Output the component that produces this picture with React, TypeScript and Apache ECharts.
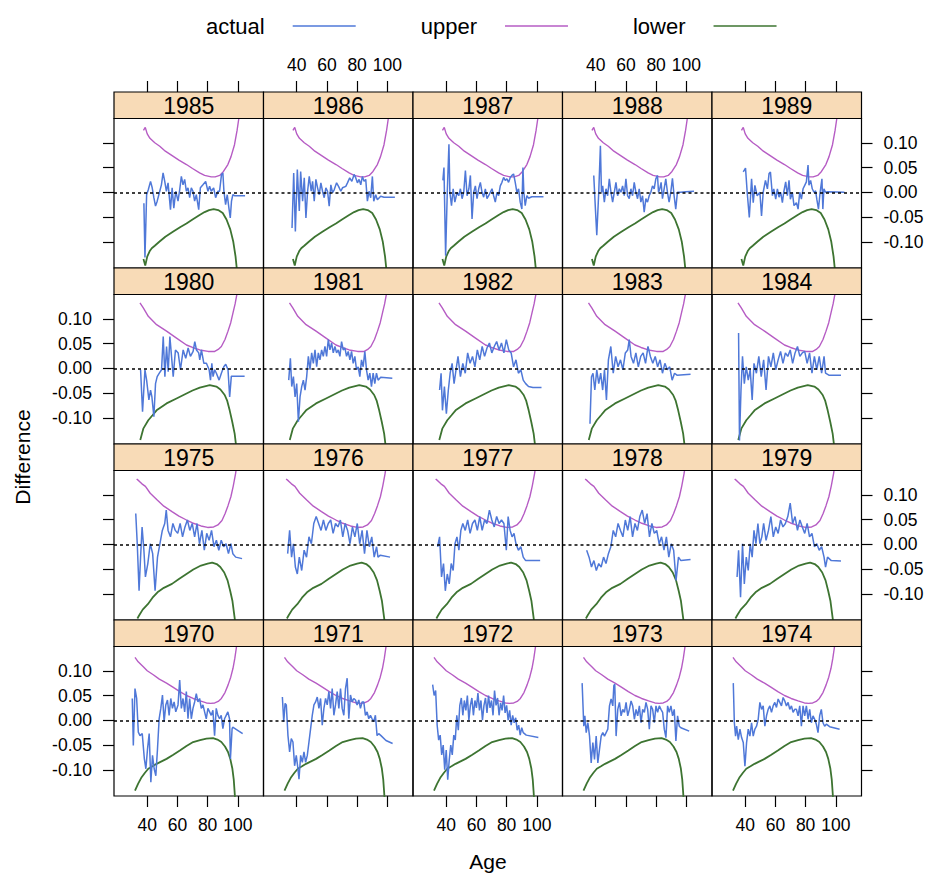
import React, { useEffect, useRef } from "react";
import * as echarts from "echarts";

const FONT = "'Liberation Sans', Arial, Helvetica, sans-serif";

// Panel layout order (top row first), as in the reference
const ROW_YEARS = [
  [1985, 1986, 1987, 1988, 1989],
  [1980, 1981, 1982, 1983, 1984],
  [1975, 1976, 1977, 1978, 1979],
  [1970, 1971, 1972, 1973, 1974],
];

const X_TICKS = [40, 60, 80, 100];
const Y_TICKS = [-0.1, -0.05, 0, 0.05, 0.1];
const X_MIN = 18;
const X_MAX = 117;
const Y_MIN = -0.153;
const Y_MAX = 0.149;

const SERIES_NAMES = ["actual", "upper", "lower"];

// ---- upper / lower bounds (age, difference), one shape per row of panels ----
const UPPER_1985_89 = [[37.5,0.125],[38.7,0.131],[40,0.118],[41.8,0.109],[45,0.1],[48.3,0.093],[52,0.083],[57,0.073],[61,0.065],[66,0.056],[70,0.048],[74.7,0.039],[78,0.034],[82.4,0.031],[85,0.031],[88,0.034],[90.5,0.042],[93.4,0.056],[95.5,0.072],[97.8,0.096],[99.5,0.125],[100.7,0.15],[101.5,0.17]];
const LOWER_1985_89 = [[37.5,-0.135],[38.7,-0.148],[40,-0.13],[41.8,-0.118],[43,-0.113],[45,-0.108],[48,-0.1],[52,-0.09],[57,-0.08],[62,-0.07],[66,-0.063],[70,-0.055],[74.7,-0.046],[78,-0.04],[81,-0.036],[84,-0.034],[87,-0.036],[90,-0.042],[92.5,-0.055],[95,-0.075],[97,-0.1],[98.5,-0.13],[99.5,-0.16]];
const UPPER_1980_84 = [[35.2,0.132],[37.4,0.122],[40.7,0.105],[46.2,0.088],[52.8,0.075],[59.4,0.061],[66,0.047],[70,0.042],[74.8,0.037],[80.3,0.034],[84.7,0.034],[87,0.038],[89.1,0.044],[91.5,0.058],[93.5,0.075],[95.3,0.092],[96.8,0.112],[98.2,0.13],[99.4,0.15],[100.5,0.17]];
const LOWER_1980_84 = [[35.4,-0.145],[37.4,-0.122],[40.7,-0.105],[43.5,-0.095],[46.2,-0.085],[52.8,-0.071],[59.4,-0.061],[66,-0.051],[70,-0.045],[74.8,-0.039],[81.4,-0.034],[85.8,-0.037],[88.5,-0.043],[91.3,-0.054],[93,-0.066],[94.6,-0.085],[96.3,-0.108],[97.9,-0.132],[99,-0.16]];
const UPPER_1975_79 = [[33,0.132],[34.5,0.128],[36.5,0.122],[38.8,0.117],[42,0.103],[46.8,0.089],[51,0.077],[56.4,0.066],[61,0.057],[66,0.049],[70,0.043],[75.6,0.037],[80,0.034],[84,0.035],[86.8,0.039],[89.5,0.048],[91.6,0.062],[93.5,0.078],[95.4,0.096],[97,0.118],[98.6,0.144],[99.6,0.17]];
const LOWER_1975_79 = [[33.5,-0.15],[34.6,-0.144],[37,-0.132],[40.4,-0.121],[43.5,-0.108],[46.8,-0.097],[51,-0.088],[56.4,-0.08],[61,-0.07],[66,-0.06],[70.5,-0.051],[75.6,-0.043],[80,-0.039],[83,-0.037],[86,-0.04],[88.4,-0.046],[91,-0.057],[93.2,-0.073],[95,-0.095],[96.4,-0.114],[98,-0.151],[98.6,-0.165]];
const UPPER_1970_74 = [[31.9,0.127],[34,0.118],[37.4,0.108],[40,0.1],[44,0.092],[48,0.083],[52.8,0.075],[57,0.067],[61.6,0.058],[66,0.05],[70.4,0.044],[75,0.039],[79.2,0.035],[82,0.034],[84.7,0.035],[87,0.038],[89.1,0.044],[91.5,0.056],[93.5,0.071],[95.3,0.087],[96.8,0.105],[98,0.125],[99,0.146],[99.8,0.17]];
const LOWER_1970_74 = [[31.9,-0.142],[34,-0.128],[36.3,-0.115],[38.5,-0.106],[40.7,-0.098],[43.5,-0.093],[46.2,-0.088],[49.5,-0.083],[52.8,-0.078],[57,-0.07],[61.6,-0.061],[66,-0.052],[70.4,-0.044],[75,-0.04],[79.2,-0.037],[83.6,-0.036],[86.5,-0.039],[89.1,-0.044],[91.5,-0.053],[93.5,-0.064],[95,-0.078],[96.4,-0.098],[97.3,-0.12],[97.9,-0.146],[98.3,-0.165]];

const UPPER_BY_ROW = [UPPER_1985_89, UPPER_1980_84, UPPER_1975_79, UPPER_1970_74];
const LOWER_BY_ROW = [LOWER_1985_89, LOWER_1980_84, LOWER_1975_79, LOWER_1970_74];

// ---- actual differences (age, difference) ----
const ACTUAL_1985 = [[37.8,-0.022],[38.5,-0.132],[39.6,-0.005],[40.7,0.005],[42.2,0.022],[43.3,0.009],[44.4,-0.011],[45.5,-0.028],[46.6,-0.018],[48.3,0.002],[49.4,0.015],[50.5,0.039],[51.6,0.022],[52.7,0.002],[53.8,0.019],[55.4,-0.035],[56.5,0.009],[57.6,-0.032],[58.9,0.002],[60.4,-0.018],[61.5,0.005],[62.6,0.032],[63.7,0.015],[64.8,0.026],[65.9,0.002],[67,0.009],[68.1,-0.011],[69.2,0.009],[70.3,0.002],[71.4,-0.018],[72.5,-0.005],[74.1,-0.035],[75.2,0.009],[76.9,0.015],[78.7,0.022],[80.2,0.002],[81.3,0.012],[82.4,0.002],[84,0.009],[85.3,-0.011],[86.8,0.002],[87.9,0.002],[89.2,0.036],[90.1,0.039],[90.8,0.002],[91.9,-0.025],[93,-0.005],[94.1,-0.032],[95,-0.052],[95.8,-0.018],[96.7,-0.005],[97.8,-0.007],[104.8,-0.007]];
const ACTUAL_1986 = [[36.9,-0.072],[38,0.039],[39.1,-0.079],[40.4,0.046],[41.7,-0.038],[42.6,0.042],[43.9,-0.018],[45,0.029],[46.1,-0.052],[47.2,0.002],[48.3,0.032],[49.6,0.002],[50.5,0.022],[51.6,-0.018],[52.7,0.026],[53.8,0.009],[54.9,-0.005],[56,0.019],[57.1,0.002],[58.2,-0.011],[59.3,0.009],[60.4,0.002],[61.5,-0.028],[62.6,0.015],[63.7,-0.001],[64.8,0.005],[66.4,0.019],[67.7,0.012],[69.2,0.002],[70.3,0.009],[72.5,0.012],[73.6,0.019],[75.1,0.029],[76.5,0.022],[78,0.036],[79.1,0.029],[80.2,0.019],[81.3,0.026],[82.4,0.015],[83.5,0.032],[84.6,0.022],[85.7,0.026],[86.8,-0.018],[87.9,0.002],[89,-0.011],[90.1,0.032],[91,-0.018],[92.3,-0.005],[93.4,-0.015],[95.6,-0.008],[97.8,-0.01],[105,-0.01]];
const ACTUAL_1987 = [[37.8,0.024],[38.5,0.05],[39.6,-0.128],[40.7,0.0],[41.8,0.097],[42.4,0.0],[43.5,-0.027],[44.6,0.007],[45.7,-0.02],[47.2,0.0],[48.3,-0.007],[49.4,0.007],[50.5,-0.013],[51.6,0.0],[52.7,0.044],[53.8,-0.007],[55,0.007],[56,0.034],[57.1,-0.054],[58.2,0.0],[59.3,0.013],[60.4,-0.013],[61.5,0.007],[62.6,0.02],[63.7,0.0],[64.8,-0.01],[65.9,0.007],[67,-0.013],[68.1,-0.007],[69.2,0.0],[70.3,0.007],[71.4,-0.007],[72.5,-0.02],[73.6,0.0],[74.7,-0.007],[75.8,0.013],[76.9,0.02],[78,0.03],[79.1,0.024],[80.2,0.027],[81.3,0.02],[82.4,0.03],[83.5,0.034],[84.6,0.037],[85.7,0.02],[86.8,0.0],[87.9,0.007],[89,-0.02],[90.1,-0.034],[90.8,0.05],[91.4,0.0],[92.3,-0.027],[93.4,-0.007],[94.5,-0.012],[96.7,-0.009],[104.4,-0.009]];
const ACTUAL_1988 = [[38.7,0.034],[39.8,-0.034],[40.7,-0.087],[42,0.0],[43.1,0.094],[43.8,0.0],[44.6,0.013],[45.7,-0.02],[46.8,0.007],[47.9,-0.007],[49,0.027],[50.1,0.0],[51.2,-0.02],[52.3,0.0],[53.4,0.02],[54.5,-0.007],[55.6,0.007],[56.7,0.0],[57.8,0.013],[58.9,-0.007],[60,0.027],[61.1,-0.007],[62.2,-0.013],[63.3,0.007],[64.4,-0.007],[65.5,0.02],[66.6,0.0],[67.7,-0.013],[68.8,0.007],[69.9,-0.02],[71,-0.007],[72.1,-0.04],[73.2,-0.013],[74.3,-0.02],[75.4,-0.007],[76.5,0.0],[77.6,0.013],[78.7,0.007],[79.8,0.027],[80.9,0.034],[81.6,0.0],[82.4,0.007],[83.3,0.02],[84.2,-0.013],[85.3,0.007],[86.4,0.027],[87.5,0.0],[88.6,-0.02],[89.7,0.0],[90.8,0.028],[91.9,-0.007],[93,-0.034],[94.1,0.0],[96.3,0.0],[99.6,0.001],[105.1,0.002]];
const ACTUAL_1989 = [[38.7,0.041],[40.2,0.049],[41.3,0.0],[42.7,-0.051],[44.2,0.027],[45.3,-0.021],[46.4,0.014],[47.9,-0.007],[49.7,0.0],[50.8,-0.048],[51.9,0.0],[53.4,0.024],[54.7,0.007],[55.8,0.038],[56.7,0.041],[58,-0.007],[58.9,0.007],[60.2,-0.014],[61.3,0.007],[62.4,-0.01],[63.5,0.0],[64.6,-0.021],[65.5,0.0],[66.8,0.021],[67.9,-0.007],[69,0.024],[69.9,-0.014],[71.2,0.0],[72.3,-0.027],[73.9,-0.021],[75,-0.034],[76.1,0.0],[77.2,-0.014],[78.3,0.007],[79.4,0.014],[80.5,0.021],[81.6,0.055],[82.2,0.014],[83.3,0.024],[84.4,0.007],[85.5,0.0],[86.6,0.003],[87.4,-0.014],[88.5,-0.034],[89.6,0.0],[90.8,0.027],[91.4,-0.034],[92.1,0.007],[93.2,0.0],[94.7,0.001],[105.7,0.0]];
const ACTUAL_1980 = [[35.6,-0.003],[36.9,-0.088],[38.5,-0.003],[39.6,-0.024],[41.1,-0.064],[42.2,-0.044],[43.1,-0.058],[44.4,-0.098],[45.5,-0.031],[46.6,-0.017],[48,-0.01],[49.5,-0.003],[50.6,0.064],[51.7,-0.017],[52.8,0.044],[53.9,-0.007],[55,0.064],[56.1,0.024],[57.2,-0.017],[58.7,0.037],[60.5,0.031],[62,-0.003],[63.8,0.037],[65.5,0.02],[67.1,0.041],[68.6,0.024],[70.4,0.034],[71.5,0.054],[72.6,0.037],[74.1,0.031],[74.8,0.017],[75.9,0.037],[77.5,0.01],[79.2,0.01],[81,-0.003],[81.9,-0.024],[82.8,0.01],[83.6,-0.017],[84.7,-0.003],[85.8,-0.01],[87.6,-0.024],[89.1,-0.01],[90.7,0.003],[92,0.008],[93.5,-0.003],[94.6,-0.058],[95.7,-0.016],[104.5,-0.016]];
const ACTUAL_1981 = [[34.7,-0.024],[35.8,0.02],[36.7,-0.037],[37.8,-0.017],[38.9,-0.058],[40,-0.031],[41.1,-0.108],[42.2,-0.058],[43.3,-0.037],[44.4,-0.024],[45.5,-0.044],[46.6,-0.017],[47.7,0.024],[48.8,-0.003],[49.9,0.031],[51,0.01],[52.1,0.037],[53.2,0.003],[54.3,0.031],[55.4,0.017],[56.5,0.037],[57.6,0.024],[58.7,0.044],[59.8,0.024],[60.9,0.058],[62,0.037],[63.1,0.051],[64.2,0.031],[65.3,0.044],[66.4,0.031],[67.5,0.037],[68.6,0.024],[69.7,0.054],[70.8,0.037],[71.9,0.041],[73,0.024],[74.1,0.034],[75.2,0.017],[76.3,0.034],[77.4,0.01],[78.5,0.024],[79.6,-0.003],[80.7,0.003],[81.8,-0.017],[82.9,0.017],[84,0.003],[85.1,0.034],[86.2,-0.003],[87.3,-0.024],[88.4,-0.01],[89.5,-0.037],[90.6,-0.01],[91.7,-0.031],[92.8,-0.01],[93.9,-0.024],[95.6,-0.018],[103.3,-0.02]];
const ACTUAL_1982 = [[35.6,-0.044],[36.6,-0.01],[37.5,-0.085],[38.8,-0.037],[40.1,-0.092],[41.4,-0.044],[42.6,-0.01],[43.9,0.01],[45.2,-0.031],[46.5,-0.003],[47.8,0.024],[49.4,-0.017],[51,0.01],[52.6,-0.01],[54.2,0.031],[55.8,0.01],[57.4,0.024],[59,0.003],[60.6,0.037],[62.2,0.017],[63.8,0.044],[65.4,0.024],[67,0.041],[68.6,0.051],[70.2,0.031],[71.8,0.044],[73.4,0.054],[75,0.037],[76.6,0.051],[78.2,0.031],[79.8,0.058],[81.4,0.037],[83,0.031],[84.6,0.003],[86.2,0.017],[87.8,-0.01],[89.4,-0.003],[91,-0.024],[92.6,-0.031],[94.5,-0.037],[97.4,-0.039],[103.1,-0.039]];
const ACTUAL_1983 = [[36.2,-0.112],[37.2,-0.017],[38.2,-0.01],[39.4,-0.044],[40.7,-0.003],[42,-0.031],[43.3,-0.01],[44.6,-0.044],[45.8,-0.003],[47.1,-0.064],[48.4,0.017],[50,0.044],[51.6,-0.01],[53.2,0.024],[54.8,0.003],[56.4,0.017],[58,-0.003],[59.6,0.031],[61.2,0.037],[62.2,0.058],[63.4,0.024],[65,0.01],[66.6,0.031],[68.2,0.003],[69.8,0.024],[71.4,0.031],[73,0.01],[74.6,0.044],[76.2,0.024],[77.8,0.01],[79.4,0.024],[81,0.003],[82.6,0.017],[84.2,-0.01],[85.8,0.01],[87.4,-0.003],[89,0.003],[90.6,-0.024],[92.2,-0.01],[93.8,-0.014],[102.8,-0.012]];
const ACTUAL_1984 = [[35.6,0.071],[36.2,-0.146],[37.2,-0.044],[38.2,0.024],[39.4,-0.031],[40.7,0.003],[42,-0.024],[43.3,-0.003],[44.6,-0.064],[45.8,0.01],[47.4,-0.01],[49,0.024],[50.6,-0.017],[52.2,0.017],[53.8,-0.044],[55.4,0.024],[57,0.003],[58.6,0.031],[60.2,-0.003],[61.8,0.017],[63.4,0.034],[65,0.01],[66.6,0.031],[68.2,0.024],[69.8,0.037],[71.4,0.01],[73,0.031],[74.6,0.044],[76.2,0.024],[77.8,0.031],[79.4,0.034],[81,0.01],[82.6,0.031],[84.2,-0.01],[85.8,0.024],[87.4,-0.003],[89,0.024],[90.6,-0.01],[92.2,0.024],[93.2,-0.01],[95.4,-0.014],[103.4,-0.014]];
const ACTUAL_1975 = [[32.4,0.062],[33.4,0.001],[34.6,-0.094],[35.6,-0.026],[36.6,0.035],[37.8,-0.012],[38.8,-0.066],[40.4,-0.039],[42,0.001],[43.6,-0.019],[45.2,-0.094],[46.8,-0.026],[48.4,0.001],[50,0.028],[51.6,0.042],[52.6,0.069],[53.8,0.028],[55.4,0.015],[57,0.042],[58.6,0.028],[60.2,0.022],[61.8,0.042],[63.4,0.015],[65,0.035],[66.6,0.049],[68.2,0.028],[69.8,0.042],[71.4,0.015],[73,0.042],[74.6,0.001],[76.2,0.028],[77.8,-0.012],[79.4,0.022],[81,0.008],[82.6,0.028],[84.2,-0.005],[85.8,0.008],[87.4,-0.012],[89,0.008],[90.6,-0.005],[92.2,0.001],[93.8,-0.019],[95.4,0.001],[96.7,-0.019],[98.6,-0.026],[102.8,-0.029]];
const ACTUAL_1976 = [[34,-0.019],[35.3,0.028],[36.6,-0.026],[37.8,0.001],[39.1,-0.046],[40.4,-0.06],[41.7,-0.026],[43.3,-0.053],[44.9,-0.012],[46.5,-0.026],[48.1,0.015],[49.7,0.001],[51.3,0.042],[52.9,0.056],[54.5,0.042],[56.1,0.028],[57.7,0.049],[59.3,0.028],[60.9,0.042],[62.5,0.049],[64.1,0.022],[65.7,0.042],[67.3,0.035],[68.9,0.049],[70.5,0.015],[72.1,0.042],[73.7,0.028],[75.3,0.001],[76.9,0.035],[78.5,0.015],[80.1,0.042],[81.7,0.001],[83.3,0.028],[84.9,-0.019],[86.5,0.028],[88.1,-0.005],[89.7,0.015],[91.3,-0.026],[92.9,-0.005],[93.8,-0.026],[95.4,-0.022],[101.8,-0.026]];
const ACTUAL_1977 = [[34.3,-0.005],[35.6,0.015],[36.9,-0.066],[38.2,-0.039],[39.4,-0.094],[40.7,-0.06],[42,-0.08],[43.3,-0.039],[44.6,-0.053],[45.8,0.001],[47.1,0.015],[48.4,-0.012],[49.7,0.028],[51,0.042],[52.6,0.028],[54.2,0.049],[55.8,0.022],[57.4,0.042],[59,0.049],[60.6,0.028],[62.2,0.056],[63.8,0.028],[65.4,0.049],[67,0.042],[68.6,0.069],[70.2,0.049],[71.8,0.035],[73.4,0.056],[75,0.042],[76.6,0.049],[78.2,0.042],[79.8,-0.012],[81,0.056],[82.3,0.028],[83.6,0.015],[84.9,0.022],[86.2,0.001],[87.8,-0.012],[89.4,-0.005],[91,-0.026],[92.6,-0.033],[95.8,-0.033],[102.2,-0.033]];
const ACTUAL_1978 = [[34,-0.012],[35.6,-0.026],[37.2,-0.046],[38.8,-0.033],[40.4,-0.053],[42,-0.039],[43.6,-0.046],[45.2,-0.026],[46.8,-0.039],[48.4,-0.019],[50,-0.005],[51.6,0.028],[53.2,0.015],[54.8,0.042],[56.4,0.028],[58,0.015],[59.6,0.049],[61.2,0.028],[62.8,0.056],[64.4,0.015],[66,0.042],[67.6,0.028],[69.2,0.056],[70.8,0.069],[72.4,0.042],[74,0.062],[75.6,0.015],[77.2,0.042],[78.8,0.022],[80.4,0.028],[82,0.001],[83.6,0.015],[85.2,-0.012],[86.8,0.015],[88.4,-0.026],[90,0.001],[91.6,-0.012],[93.2,-0.073],[94.8,-0.026],[96.4,-0.033],[102.8,-0.031]];
const ACTUAL_1979 = [[34.6,-0.066],[35.6,-0.012],[36.9,-0.107],[38.2,0.001],[39.4,-0.08],[40.7,-0.026],[42,-0.053],[43.3,0.001],[44.6,-0.026],[45.8,0.028],[47.1,0.001],[48.4,0.042],[49.7,0.001],[51,0.015],[52.2,0.042],[53.8,0.008],[55.4,0.028],[57,0.056],[58.6,0.015],[60.2,0.035],[61.8,0.022],[63.4,0.049],[65,0.035],[66.6,0.042],[68.2,0.056],[69.8,0.083],[71.4,0.042],[73,0.056],[74.6,0.028],[76.2,0.049],[77.8,0.035],[79.4,0.022],[81,0.042],[82.6,0.015],[84.2,0.022],[85.8,-0.005],[87.4,0.001],[89,-0.012],[90.6,-0.005],[92.2,-0.026],[93.2,-0.046],[94.5,-0.026],[97,-0.033],[103.4,-0.034]];
const ACTUAL_1970 = [[30.1,0.044],[30.8,-0.051],[31.9,0.064],[33,0.044],[34.1,-0.024],[35.2,-0.031],[36.7,-0.027],[38.1,-0.078],[39.1,-0.098],[40.2,-0.058],[41.3,-0.027],[42.4,-0.125],[43.5,-0.071],[44.6,-0.098],[45.7,-0.112],[46.8,-0.058],[47.9,0.003],[49,0.024],[50.1,0.051],[51.2,-0.003],[52.3,0.031],[53.4,0.041],[54.5,0.01],[55.6,0.044],[56.7,0.024],[57.8,0.037],[58.9,0.017],[60.4,0.031],[61.5,0.081],[62.6,0.024],[63.7,0.044],[64.8,0.017],[65.9,0.058],[67,0.003],[68.1,0.044],[69.2,0.003],[70.3,0.024],[71.4,0.037],[72.5,0.054],[73.6,0.037],[74.7,0.044],[75.8,0.024],[76.9,0.031],[78,0.017],[79.1,0.003],[80.2,0.024],[81.3,0.017],[82.4,0.01],[83.5,0.02],[84.6,-0.031],[85.7,0.024],[86.8,0.01],[87.9,0.003],[89,0.01],[90.1,-0.017],[91.2,0.003],[92.3,0.01],[93.4,0.017],[94.5,0.003],[95.1,-0.078],[96.2,-0.017],[96.6,-0.014],[103.2,-0.027]];
const ACTUAL_1971 = [[30.5,0.047],[31.4,-0.003],[32.3,0.034],[33.1,0.031],[34.2,-0.031],[35.3,-0.064],[36.4,-0.037],[37.5,-0.044],[38.6,-0.092],[39.7,-0.071],[40.8,-0.098],[41.5,-0.119],[42.6,-0.071],[43.7,-0.085],[44.8,-0.064],[45.9,-0.085],[47,-0.071],[48.1,-0.044],[49.2,-0.017],[50.3,0.01],[51.4,0.031],[52.5,0.037],[53.6,0.047],[54.7,0.024],[55.8,0.044],[56.9,-0.01],[58,0.024],[59.1,0.044],[60.2,0.031],[61.3,0.058],[62.4,0.024],[63.5,0.064],[64.6,0.01],[65.7,0.031],[66.8,0.058],[67.9,0.024],[69,0.064],[70.1,0.024],[71.2,0.01],[72.3,0.064],[73.4,0.085],[74.5,0.003],[75.6,0.051],[76.7,0.037],[77.8,0.044],[78.9,0.041],[80,0.031],[81.1,0.041],[82.2,0.024],[83.3,0.037],[84.4,0.037],[85.5,0.01],[86.6,0.017],[87.7,0.003],[88.8,0.01],[89.9,0.003],[91,-0.003],[92.1,0.01],[93.2,-0.031],[94.3,-0.027],[95.8,-0.031],[99.1,-0.041],[103.5,-0.047]];
const ACTUAL_1972 = [[31,0.072],[32,0.05],[33,0.06],[34,-0.01],[35,-0.04],[36,-0.03],[37,-0.07],[38,-0.05],[39,-0.1],[40,-0.06],[41,-0.12],[42,-0.08],[43,-0.05],[44,-0.07],[45,-0.03],[46,-0.04],[47,0.01],[48,-0.02],[49,0.03],[50,0.045],[51,0.01],[52,0.04],[53,0.02],[54,0.05],[55,0.0],[56,0.03],[57,0.045],[58,0.01],[59,0.04],[60,0.025],[61,0.055],[62,0.02],[63,0.04],[64,0.0],[65,0.03],[66,0.045],[67,0.015],[68,0.05],[69,0.025],[70,0.04],[71,0.01],[72,0.06],[73,0.03],[74,0.045],[75,0.01],[76,0.035],[77,0.02],[78,0.05],[79,0.015],[80,0.03],[81,0.0],[82,0.02],[83,-0.01],[84,0.01],[85,-0.005],[86,0.005],[87,-0.02],[88,-0.01],[89,-0.03],[90,-0.015],[91,-0.025],[93,-0.03],[101,-0.035]];
const ACTUAL_1973 = [[31,0.075],[32.1,-0.012],[32.8,0.009],[33.7,-0.025],[34.8,-0.005],[35.9,-0.032],[37,-0.086],[38.1,-0.045],[39.2,-0.079],[40.3,-0.032],[41.4,-0.086],[42.5,-0.059],[43.6,-0.032],[44.7,-0.025],[45.8,-0.032],[46.9,-0.025],[48,-0.018],[49.1,0.029],[50.2,0.043],[51.3,0.029],[52,0.07],[52.6,0.073],[53.5,-0.032],[54.6,0.022],[55.7,0.036],[56.8,0.009],[57.9,0.022],[59,0.016],[60.1,0.036],[61.2,0.009],[62.3,0.022],[63.4,0.039],[64.5,0.029],[65.6,0.002],[66.7,0.022],[67.8,0.009],[68.9,0.029],[70,-0.005],[71.1,0.022],[72.2,0.016],[73.3,0.036],[74.4,0.022],[75.5,-0.018],[76.6,0.029],[77.7,0.022],[78.8,-0.005],[79.9,0.029],[81,0.016],[82.1,0.029],[83.2,0.022],[84.3,0.016],[85.4,-0.018],[86.5,-0.035],[87.6,0.029],[88.7,0.016],[89.8,0.029],[90.9,0.009],[92,0.022],[93.1,-0.042],[94.2,0.009],[95.3,-0.012],[96.4,-0.015],[101.9,-0.022]];
const ACTUAL_1974 = [[32.1,0.075],[32.8,-0.005],[33.6,-0.032],[34.3,-0.012],[35.4,-0.039],[36.5,-0.018],[37.6,-0.035],[38.7,-0.045],[39.8,-0.093],[40.9,-0.045],[42,-0.018],[43.1,-0.032],[44.2,-0.005],[45.3,-0.032],[46.4,-0.018],[47.5,-0.012],[48.6,0.002],[49.7,0.036],[50.8,0.022],[51.9,0.029],[53,-0.012],[54.1,0.009],[55.2,0.022],[56.3,0.029],[57.4,0.016],[58.5,0.029],[59.6,0.036],[60.7,0.026],[61.8,0.043],[62.9,0.036],[64,0.029],[65.1,0.046],[66.2,0.039],[67.3,0.029],[68.4,0.036],[69.5,0.022],[70.6,0.029],[71.7,0.016],[72.8,0.022],[73.9,0.022],[75,0.009],[76.1,0.029],[77.2,-0.012],[78.3,0.029],[79.4,0.009],[80.5,0.029],[81.6,0.002],[82.7,0.022],[83.8,-0.005],[84.9,0.009],[86,0.002],[87.1,-0.008],[88.2,-0.025],[89.3,0.009],[90.4,0.022],[91.5,-0.005],[92.6,-0.012],[93.7,-0.008],[95.9,-0.013],[102.5,-0.018]];

const ACTUAL_BY_YEAR: Record<number, number[][]> = {
  1985: ACTUAL_1985, 1986: ACTUAL_1986, 1987: ACTUAL_1987, 1988: ACTUAL_1988, 1989: ACTUAL_1989,
  1980: ACTUAL_1980, 1981: ACTUAL_1981, 1982: ACTUAL_1982, 1983: ACTUAL_1983, 1984: ACTUAL_1984,
  1975: ACTUAL_1975, 1976: ACTUAL_1976, 1977: ACTUAL_1977, 1978: ACTUAL_1978, 1979: ACTUAL_1979,
  1970: ACTUAL_1970, 1971: ACTUAL_1971, 1972: ACTUAL_1972, 1973: ACTUAL_1973, 1974: ACTUAL_1974,
};

// ---- styling / layout ----
const COLOR_ACTUAL = "#4f78d8";
const COLOR_UPPER = "#b65cc4";
const COLOR_LOWER = "#3d7431";
const STRIP_FILL = "#f8dbb7";

const PANEL_LEFT = 114;
const PANEL_W = 149.5;
const ROW_TOP = 92;
const ROW_H = 176;
const STRIP_H = 26.5;
const PLOT_H = 149.5;
const TICK_FONT = 17.5;

function buildOption() {
  const grid: any[] = [];
  const xAxis: any[] = [];
  const yAxis: any[] = [];
  const series: any[] = [];
  const graphic: any[] = [];

  ROW_YEARS.forEach((years, r) => {
    years.forEach((year, c) => {
      const i = r * 5 + c;
      const left = PANEL_LEFT + c * PANEL_W;
      const stripTop = ROW_TOP + r * ROW_H;
      const top = stripTop + STRIP_H;

      grid.push({
        left, top, width: PANEL_W, height: PLOT_H,
        show: true, borderColor: "#000", borderWidth: 1.2,
        backgroundColor: "transparent",
        containLabel: false, outerBoundsMode: "none",
      });

      const xLabelShow = (r === 0 && (c === 1 || c === 3)) || (r === 3 && (c === 0 || c === 2 || c === 4));
      xAxis.push({
        type: "value", gridIndex: i, min: X_MIN, max: X_MAX,
        position: r === 0 ? "top" : "bottom",
        offset: r === 0 ? STRIP_H : 0,
        show: r === 0 || r === 3,
        axisLine: { show: false, onZero: false },
        splitLine: { show: false },
        axisTick: { show: true, inside: false, length: 11, customValues: X_TICKS, lineStyle: { color: "#000", width: 1.2 } },
        axisLabel: {
          show: xLabelShow, customValues: X_TICKS, margin: r === 0 ? 18 : 20,
          fontSize: TICK_FONT, fontFamily: FONT, color: "#000",
        },
      });

      const yLabelShow = (c === 0 && (r === 1 || r === 3)) || (c === 4 && (r === 0 || r === 2));
      yAxis.push({
        type: "value", gridIndex: i, min: Y_MIN, max: Y_MAX,
        position: c === 4 ? "right" : "left",
        show: c === 0 || c === 4,
        axisLine: { show: false, onZero: false },
        splitLine: { show: false },
        axisTick: { show: true, inside: false, length: 11, customValues: Y_TICKS, lineStyle: { color: "#000", width: 1.2 } },
        axisLabel: {
          show: yLabelShow, customValues: Y_TICKS, margin: 22,
          fontSize: TICK_FONT, fontFamily: FONT, color: "#000",
          formatter: (v: number) => (Math.abs(v) < 1e-9 ? 0 : v).toFixed(2),
        },
      });

      series.push({
        name: "actual", type: "line", xAxisIndex: i, yAxisIndex: i,
        data: ACTUAL_BY_YEAR[year], symbol: "none", clip: true,
        color: COLOR_ACTUAL, lineStyle: { color: COLOR_ACTUAL, width: 1.5 },
        z: 3,
        markLine: {
          silent: true, symbol: ["none", "none"], label: { show: false },
          lineStyle: { color: "#000", type: [3, 3], width: 1.5 },
          data: [{ yAxis: 0 }],
        },
      });
      series.push({
        name: "upper", type: "line", xAxisIndex: i, yAxisIndex: i,
        data: UPPER_BY_ROW[r], symbol: "none", clip: true,
        color: COLOR_UPPER, lineStyle: { color: COLOR_UPPER, width: 1.4 },
        z: 2,
      });
      series.push({
        name: "lower", type: "line", xAxisIndex: i, yAxisIndex: i,
        data: LOWER_BY_ROW[r], symbol: "none", clip: true,
        color: COLOR_LOWER, lineStyle: { color: COLOR_LOWER, width: 1.8 },
        z: 2,
      });

      graphic.push({
        type: "rect", z: 10,
        shape: { x: left, y: stripTop, width: PANEL_W, height: STRIP_H },
        style: { fill: STRIP_FILL, stroke: "#000", lineWidth: 1.2 },
      });
      graphic.push({
        type: "text", z: 11,
        x: left + PANEL_W / 2, y: stripTop + STRIP_H / 2 + 1,
        style: {
          text: String(year), textAlign: "center", textVerticalAlign: "middle",
          fontSize: 23, fontFamily: FONT, fill: "#000",
        },
      });
    });
  });

  graphic.push({
    type: "text", x: 22, y: 457, rotation: Math.PI / 2,
    style: { text: "Difference", textAlign: "center", textVerticalAlign: "middle", fontSize: 21, fontFamily: FONT, fill: "#000" },
  });
  graphic.push({
    type: "text", x: 488, y: 861,
    style: { text: "Age", textAlign: "center", textVerticalAlign: "middle", fontSize: 21, fontFamily: FONT, fill: "#000" },
  });

  return {
    animation: false,
    backgroundColor: "#fff",
    legend: {
      data: SERIES_NAMES,
      left: 201, top: 10,
      align: "right",
      icon: "rect",
      itemWidth: 63, itemHeight: 1.6, itemGap: 65,
      selectedMode: false,
      textStyle: { fontSize: 22, fontFamily: FONT, color: "#000", padding: [0, 23, 0, 0] },
    },
    grid, xAxis, yAxis, series, graphic,
  };
}

export default function App() {
  const ref = useRef<HTMLDivElement>(null);
  useEffect(() => {
    if (!ref.current) return;
    const chart = echarts.init(ref.current, null, { renderer: "svg" });
    chart.setOption(buildOption() as any);
    return () => chart.dispose();
  }, []);
  return (
    <div
      ref={ref}
      style={{ position: "absolute", left: 0, top: 0, width: 930, height: 878, background: "#fff" }}
    />
  );
}
